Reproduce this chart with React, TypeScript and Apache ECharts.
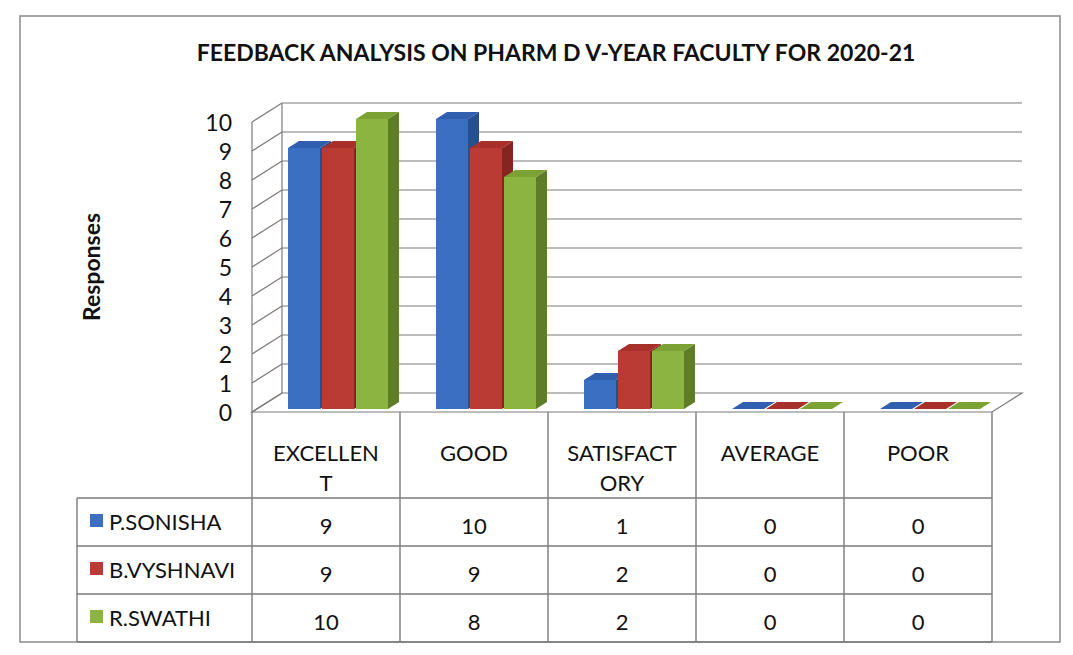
import React, { useEffect, useRef } from "react";
import * as echarts from "echarts";

const categories = ["EXCELLENT", "GOOD", "SATISFACTORY", "AVERAGE", "POOR"];
const headerLabels = ["EXCELLEN\nT", "GOOD", "SATISFACT\nORY", "AVERAGE", "POOR"];
const seriesNames = ["P.SONISHA", "B.VYSHNAVI", "R.SWATHI"];
const sonisha = [9, 10, 1, 0, 0];
const vyshnavi = [9, 9, 2, 0, 0];
const swathi = [10, 8, 2, 0, 0];
const yTicks = [0, 1, 2, 3, 4, 5, 6, 7, 8, 9, 10];
const titleText = "FEEDBACK ANALYSIS ON PHARM D V-YEAR FACULTY FOR 2020-21";
const yName = "Responses";

const seriesData = [sonisha, vyshnavi, swathi];
const colors = [
  { front: "#3A6FC1", top: "#2F5FAE", side: "#264F8F" },
  { front: "#BA3A34", top: "#A8302B", side: "#862520" },
  { front: "#8BB540", top: "#7CA236", side: "#5E7D26" },
];

const FONT = "Lato, 'Open Sans', sans-serif";
const GRID_LEFT = 252;
const GRID_W = 740;
const GRID_TOP = 122;
const GRID_H = 290;
const DX = 30;
const DY = -19;
const BAR_W = 32;
const BAR_STEP = 34;
const SHIFT_X = 12;
const SHIFT_Y = -3;
const BDX = 11;
const BDY = -7;
const ROW_Y = [498, 546, 594, 642];
const TABLE_LEFT = 77;

export default function App() {
  const ref = useRef<HTMLDivElement>(null);
  useEffect(() => {
    if (!ref.current) return;
    const chart = echarts.init(ref.current, null, { renderer: "svg" });
    const colW = GRID_W / categories.length;
    const lineColor = "#7a7a7a";

    const wallSeries = {
      type: "custom",
      xAxisIndex: 0,
      yAxisIndex: 0,
      z: 1,
      silent: true,
      encode: { x: 0, y: 1 },
      data: yTicks.map((v) => [0, v]),
      renderItem: (params: any, api: any) => {
        const v = api.value(1);
        const p = api.coord([0, v]);
        const bw = api.size([1, 0])[0];
        const x0 = p[0] - bw / 2;
        const y = p[1];
        const total = bw * categories.length;
        const children: any[] = [];
        if (v === 0) {
          children.push({
            type: "polygon",
            shape: {
              points: [
                [x0, y],
                [x0 + total, y],
                [x0 + total + DX, y + DY],
                [x0 + DX, y + DY],
              ],
            },
            style: { fill: "#ffffff", stroke: lineColor, lineWidth: 1.2 },
          });
          const pTop = api.coord([0, yTicks[yTicks.length - 1]]);
          children.push({
            type: "line",
            shape: { x1: x0, y1: y, x2: x0, y2: pTop[1] },
            style: { stroke: lineColor, lineWidth: 1.2 },
          });
          children.push({
            type: "line",
            shape: { x1: x0 + DX, y1: y + DY, x2: x0 + DX, y2: pTop[1] + DY },
            style: { stroke: lineColor, lineWidth: 1.2 },
          });
        } else {
          children.push({
            type: "line",
            shape: { x1: x0 + DX, y1: y + DY, x2: x0 + DX + total, y2: y + DY },
            style: { stroke: lineColor, lineWidth: 1.2 },
          });
        }
        children.push({
          type: "line",
          shape: { x1: x0, y1: y, x2: x0 + DX, y2: y + DY },
          style: { stroke: lineColor, lineWidth: 1.2 },
        });
        return { type: "group", children };
      },
    };

    const barSeries = seriesData.map((arr, s) => ({
      type: "custom",
      name: seriesNames[s],
      xAxisIndex: 0,
      yAxisIndex: 0,
      z: 2,
      encode: { x: 0, y: 1 },
      data: arr.map((v, i) => [i, v]),
      renderItem: (params: any, api: any) => {
        const idx = api.value(0);
        const v = api.value(1);
        const base = api.coord([idx, 0]);
        const top = api.coord([idx, v]);
        const cx = base[0] + (s - 1) * BAR_STEP + SHIFT_X;
        const x1 = cx - BAR_W / 2;
        const x2 = cx + BAR_W / 2;
        const yb = base[1] + SHIFT_Y;
        const yt = top[1] + SHIFT_Y;
        const c = colors[s];
        return {
          type: "group",
          children: [
            {
              type: "polygon",
              shape: { points: [[x2, yt], [x2 + BDX, yt + BDY], [x2 + BDX, yb + BDY], [x2, yb]] },
              style: { fill: c.side },
            },
            {
              type: "rect",
              shape: { x: x1, y: yt, width: BAR_W, height: yb - yt },
              style: { fill: c.front },
            },
            {
              type: "polygon",
              shape: { points: [[x1, yt], [x2, yt], [x2 + BDX, yt + BDY], [x1 + BDX, yt + BDY]] },
              style: { fill: c.top },
            },
          ],
        };
      },
    }));

    const graphics: any[] = [];
    graphics.push({
      type: "rect",
      shape: { x: 20, y: 16, width: 1040, height: 626 },
      style: { fill: "none", stroke: "#8a8a8a", lineWidth: 1.5 },
      z: -1,
    });
    const tableRight = GRID_LEFT + GRID_W;
    const floorY = GRID_TOP + GRID_H;
    for (let i = 0; i <= categories.length; i++) {
      const x = GRID_LEFT + i * colW;
      graphics.push({
        type: "line",
        shape: { x1: x, y1: floorY, x2: x, y2: ROW_Y[ROW_Y.length - 1] },
        style: { stroke: lineColor, lineWidth: 1.4 },
      });
    }
    graphics.push({
      type: "line",
      shape: { x1: TABLE_LEFT, y1: ROW_Y[0], x2: TABLE_LEFT, y2: ROW_Y[ROW_Y.length - 1] },
      style: { stroke: lineColor, lineWidth: 1.4 },
    });
    ROW_Y.forEach((y) => {
      graphics.push({
        type: "line",
        shape: { x1: TABLE_LEFT, y1: y, x2: tableRight, y2: y },
        style: { stroke: lineColor, lineWidth: 1.4 },
      });
    });
    headerLabels.forEach((lab, i) => {
      graphics.push({
        type: "text",
        x: GRID_LEFT + (i + 0.5) * colW,
        y: 437,
        style: {
          text: lab,
          font: `22px ${FONT}`,
          fill: "#111",
          align: "center",
          verticalAlign: "top",
          lineHeight: 30,
        },
      });
    });
    seriesNames.forEach((name, s) => {
      const yc = (ROW_Y[s] + ROW_Y[s + 1]) / 2;
      graphics.push({
        type: "rect",
        shape: { x: 90, y: yc - 8, width: 13, height: 13 },
        style: { fill: colors[s].front },
      });
      graphics.push({
        type: "text",
        x: 109,
        y: yc - 1,
        style: {
          text: name,
          font: `22px ${FONT}`,
          fill: "#111",
          align: "left",
          verticalAlign: "middle",
        },
      });
      seriesData[s].forEach((v, i) => {
        graphics.push({
          type: "text",
          x: GRID_LEFT + (i + 0.5) * colW,
          y: yc + 3,
          style: {
            text: String(v),
            font: `22px ${FONT}`,
            fill: "#111",
            align: "center",
            verticalAlign: "middle",
          },
        });
      });
    });

    chart.setOption({
      animation: false,
      backgroundColor: "#ffffff",
      title: {
        text: titleText,
        left: 551,
        top: 35,
        textAlign: "center",
        textStyle: { fontFamily: FONT, fontSize: 23, fontWeight: "bold", color: "#111" },
      },
      grid: { left: GRID_LEFT, top: GRID_TOP, width: GRID_W, height: GRID_H },
      xAxis: {
        type: "category",
        data: categories,
        show: false,
      },
      yAxis: {
        type: "value",
        min: 0,
        max: 10,
        interval: 1,
        name: yName,
        nameLocation: "middle",
        nameGap: 150,
        nameRotate: 90,
        nameTextStyle: { fontFamily: FONT, fontSize: 23, fontWeight: "bold", color: "#111" },
        axisLine: { show: false },
        axisTick: { show: false },
        splitLine: { show: false },
        axisLabel: { margin: 20, fontFamily: FONT, fontSize: 23, color: "#111" },
      },
      series: [wallSeries, ...barSeries],
      graphic: graphics,
    });
    return () => chart.dispose();
  }, []);
  return (
    <div
      ref={ref}
      style={{ position: "fixed", left: 0, top: 0, width: 1073, height: 655, background: "#fff" }}
    />
  );
}
